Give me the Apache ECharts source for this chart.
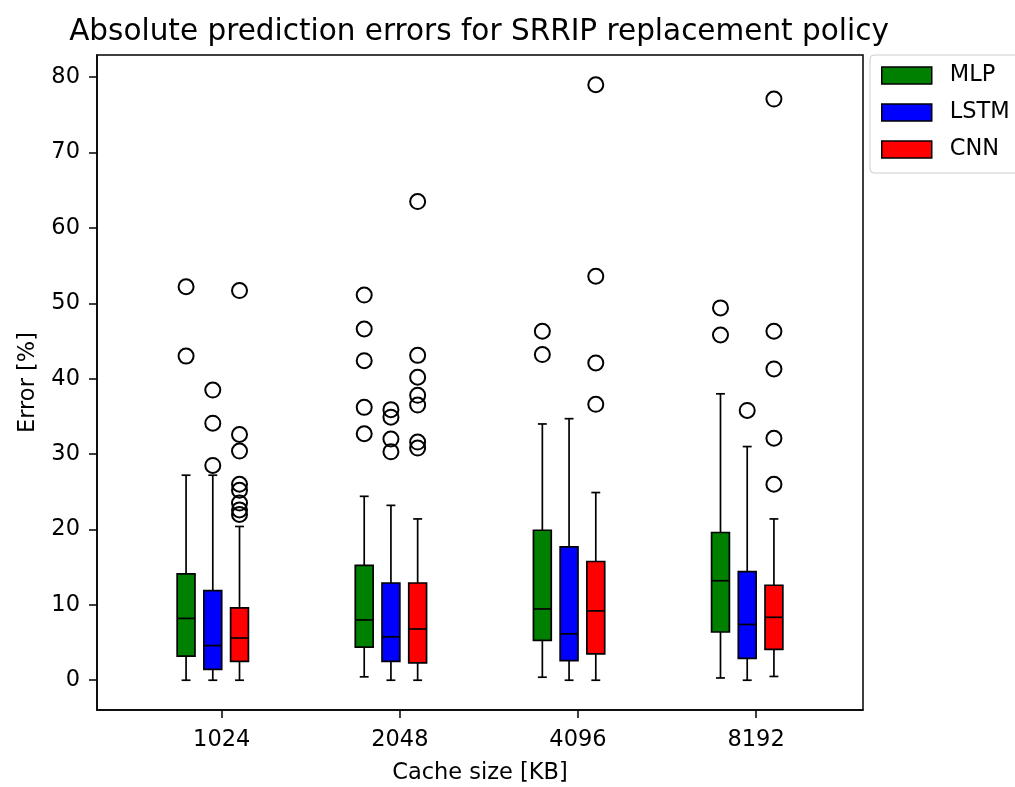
<!DOCTYPE html>
<html>
<head>
<meta charset="utf-8">
<script src="https://cdn.jsdelivr.net/npm/echarts@6/dist/echarts.min.js"></script>
<style>html,body{margin:0;padding:0;background:#fff;}#c{width:1015px;height:787px;}</style>
</head>
<body>
<div id="c"></div>
<script>
// ---- data ----
const categories = ['1024', '2048', '4096', '8192'];
const seriesNames = ['MLP', 'LSTM', 'CNN'];
const seriesColors = ['#008000', '#0000ff', '#ff0000'];
const yTicks = [0, 10, 20, 30, 40, 50, 60, 70, 80];
// [whisker low, Q1, median, Q3, whisker high] per cache size
const mlpBox = [[0, 3.2, 8.2, 14.1, 27.2], [0.45, 4.4, 8.0, 15.25, 24.4], [0.4, 5.3, 9.45, 19.9, 34.0], [0.3, 6.4, 13.2, 19.6, 38.0]];
const lstmBox = [[0, 1.45, 4.6, 11.9, 27.2], [0, 2.5, 5.75, 12.9, 23.2], [0, 2.6, 6.15, 17.7, 34.7], [0, 2.9, 7.4, 14.4, 31.0]];
const cnnBox = [[0, 2.5, 5.6, 9.6, 20.4], [0, 2.3, 6.8, 12.9, 21.4], [0, 3.5, 9.2, 15.75, 24.9], [0.5, 4.1, 8.35, 12.6, 21.4]];
// outliers per cache size
const mlpOut = [[52.2, 43.0], [51.1, 46.6, 42.4, 36.2, 32.7], [46.3, 43.2], [49.4, 45.8]];
const lstmOut = [[38.5, 34.1, 28.5], [35.9, 34.9, 32.0, 30.3], [], [35.8]];
const cnnOut = [[51.7, 32.6, 30.4, 26.0, 25.2, 23.5, 22.6, 22.0], [63.5, 43.1, 40.2, 37.8, 36.5, 31.6, 30.8], [79.0, 53.6, 42.1, 36.6], [77.1, 46.3, 41.3, 32.1, 26.0]];

// ---- layout ----
const offsets = [-0.2, -0.05, 0.1];
const BOX_W = 0.1;
const LW = 1.7;
const FONT = 'DejaVu Sans';
const boxes = [mlpBox, lstmBox, cnnBox];
const outs = [mlpOut, lstmOut, cnnOut];

function renderBox(params, api) {
  const x = api.value(0);
  const lo = api.coord([x, api.value(1)]);
  const q1 = api.coord([x, api.value(2)]);
  const md = api.coord([x, api.value(3)]);
  const q3 = api.coord([x, api.value(4)]);
  const hi = api.coord([x, api.value(5)]);
  const half = api.size([BOX_W, 0])[0] / 2;
  const cx = lo[0];
  const ls = { stroke: '#000', lineWidth: LW };
  const fill = api.visual('color');
  return {
    type: 'group',
    children: [
      { type: 'line', shape: { x1: cx, y1: lo[1], x2: cx, y2: q1[1] }, style: ls },
      { type: 'line', shape: { x1: cx, y1: q3[1], x2: cx, y2: hi[1] }, style: ls },
      { type: 'line', shape: { x1: cx - half / 2, y1: lo[1], x2: cx + half / 2, y2: lo[1] }, style: ls },
      { type: 'line', shape: { x1: cx - half / 2, y1: hi[1], x2: cx + half / 2, y2: hi[1] }, style: ls },
      { type: 'rect', shape: { x: cx - half, y: q3[1], width: 2 * half, height: q1[1] - q3[1] }, style: { fill: fill, stroke: '#000', lineWidth: LW } },
      { type: 'line', shape: { x1: cx - half, y1: md[1], x2: cx + half, y2: md[1] }, style: ls }
    ]
  };
}

const series = [];
seriesNames.forEach((name, s) => {
  const data = boxes[s].map((b, i) => [i + 1 + offsets[s]].concat(b));
  series.push({
    name: name,
    type: 'custom',
    renderItem: renderBox,
    encode: { x: 0, y: [1, 2, 3, 4, 5] },
    itemStyle: { color: seriesColors[s], borderColor: '#000', borderWidth: 1.5 },
    data: data,
    z: 2
  });
});
seriesNames.forEach((name, s) => {
  const pts = [];
  outs[s].forEach((arr, i) => arr.forEach(v => pts.push([i + 1 + offsets[s], v])));
  series.push({
    name: name + ' outliers',
    type: 'scatter',
    symbol: 'circle',
    symbolSize: 15,
    itemStyle: { color: 'rgba(0,0,0,0)', borderColor: '#000', borderWidth: 2, opacity: 1 },
    data: pts,
    z: 3,
    silent: true
  });
});

const chart = echarts.init(document.getElementById('c'), null, { renderer: 'canvas' });
chart.setOption({
  backgroundColor: '#fff',
  animation: false,
  textStyle: { fontFamily: FONT },
  title: {
    text: 'Absolute prediction errors for SRRIP replacement policy',
    left: 474,
    textAlign: 'center',
    top: 12,
    textStyle: { fontFamily: FONT, fontSize: 29.5, fontWeight: 'normal', color: '#000' }
  },
  legend: {
    data: seriesNames.map((n, s) => ({ name: n, icon: 'rect', itemStyle: { color: seriesColors[s], borderColor: '#000', borderWidth: 1.5 } })),
    orient: 'vertical',
    left: 870,
    top: 55,
    itemWidth: 50,
    itemHeight: 17,
    itemGap: 14,
    padding: [9, 40, 12, 11],
    borderColor: '#cccccc',
    borderWidth: 1,
    borderRadius: 4,
    textStyle: { fontFamily: FONT, fontSize: 22.5, color: '#000', padding: [0, 0, 0, 13] }
  },
  grid: { left: 97, right: 152, top: 55, bottom: 77, outerBoundsMode: 'none', containLabel: false, show: true, borderColor: '#000', borderWidth: 1.5, backgroundColor: 'transparent' },
  xAxis: {
    type: 'value',
    min: 0.3,
    max: 4.6,
    name: 'Cache size [KB]',
    nameLocation: 'middle',
    nameGap: 52,
    nameTextStyle: { fontFamily: FONT, fontSize: 22.5, color: '#000' },
    splitLine: { show: false },
    axisLine: { show: true, onZero: false, lineStyle: { color: '#000', width: 1.5 } },
    axisTick: { show: true, length: 8, lineStyle: { color: '#000', width: 1.5 }, customValues: [1, 2, 3, 4] },
    axisLabel: { show: true, margin: 19, fontFamily: FONT, fontSize: 22.5, color: '#000', customValues: [1, 2, 3, 4], formatter: v => categories[Math.round(v) - 1] }
  },
  yAxis: {
    type: 'value',
    min: -3.95,
    max: 82.95,
    name: 'Error [%]',
    nameLocation: 'middle',
    nameGap: 57,
    nameTextStyle: { fontFamily: FONT, fontSize: 22.5, color: '#000' },
    splitLine: { show: false },
    axisLine: { show: true, onZero: false, lineStyle: { color: '#000', width: 1.5 } },
    axisTick: { show: true, length: 8, lineStyle: { color: '#000', width: 1.5 }, customValues: yTicks },
    axisLabel: { show: true, margin: 17, fontFamily: FONT, fontSize: 22.5, color: '#000', customValues: yTicks }
  },
  series: series
});
</script>
</body>
</html>
